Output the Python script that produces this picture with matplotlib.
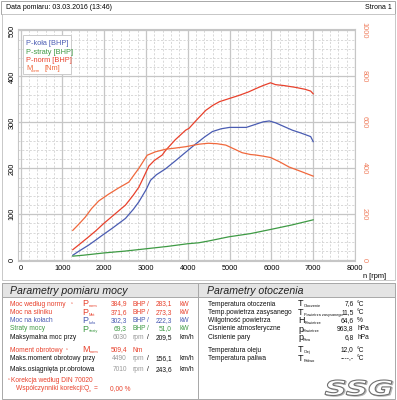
import matplotlib.pyplot as plt
from matplotlib.patches import Rectangle, PathPatch
from matplotlib.textpath import TextPath
from matplotlib.font_manager import FontProperties
from matplotlib.transforms import Affine2D
from matplotlib.ticker import MultipleLocator

plt.rcParams['font.family'] = ['Liberation Sans', 'DejaVu Sans']

# colours of the dyno sheet
RED = '#e8412c'
ORANGE = '#f0683c'
BLUE = '#4a5cb2'
GREEN = '#3e9a44'
GRAY = '#9a9a9a'
AXIS_R = '#f08060'

# ---- curves ----
rpm_kola = [1250, 1400, 1630, 1800, 1950, 2200, 2510, 2700, 2830, 3000, 3110, 3250, 3470,
            3700, 3950, 4190, 4400, 4590, 4800, 5000, 5200, 5400, 5600, 5800, 5950, 6100,
            6300, 6500, 6700, 6940, 7000]
p_kola = [11, 20, 33, 44, 54, 70, 91, 111, 127, 153, 174, 186, 199,
          216, 235, 253, 268, 280, 286, 289, 289, 289, 295, 301, 303, 299,
          291, 283, 277, 269, 258]

rpm_norm = [1250, 1400, 1630, 1800, 1990, 2250, 2510, 2700, 2830, 2910, 3070, 3200, 3390,
            3470, 3700, 3950, 4030, 4200, 4430, 4600, 4760, 5000, 5240, 5450, 5620, 5800,
            5980, 6100, 6300, 6580, 6800, 6940, 7000]
p_norm = [23, 34, 51, 64, 80, 100, 120, 142, 159, 174, 205, 217, 229,
          239, 262, 283, 287, 304, 326, 337, 345, 352, 359, 366, 373, 380,
          386, 382, 380, 376, 372, 368, 362]

rpm_straty = [1250, 1500, 2000, 2500, 3000, 3500, 4000, 4260, 4500, 4980, 5500, 5980, 6500, 7000]
p_straty = [9, 11, 16, 20, 25, 30, 36, 38, 42, 51, 58, 67, 77, 88]

rpm_m = [1250, 1400, 1550, 1700, 1870, 2110, 2350, 2590, 2830, 3030, 3230, 3470, 3700,
         3950, 4270, 4490, 4700, 4910, 5100, 5300, 5500, 5620, 5800, 5980, 6200, 6420,
         6700, 7000]
m_norm = [130, 158, 188, 225, 258, 288, 315, 340, 400, 457, 472, 483, 488,
          494, 505, 509, 507, 501, 485, 468, 460, 458, 453, 447, 428, 406,
          387, 366]

x_ticks = [0, 1000, 2000, 3000, 4000, 5000, 6000, 7000, 8000]
left_ticks = [0, 100, 200, 300, 400, 500]
right_ticks = [0, 200, 400, 600, 800, 1000]

# ---- table texts ----
moc_rows = [
    ("Moc według normy", "P", "norm", "384,9", "BHP", "283,1", "kW", RED),
    ("Moc na silniku", "P", "Mot", "371,6", "BHP", "273,3", "kW", RED),
    ("Moc na kołach", "P", "koła", "302,3", "BHP", "222,3", "kW", BLUE),
    ("Straty mocy", "P", "straty", "69,3", "BHP", "51,0", "kW", GREEN),
]
moc_speed_rows = [
    ("Maksymalna moc przy", "6030", "209,5"),
    ("Maks.moment obrotowy przy", "4490", "156,1"),
    ("Maks.osiągnięta pr.obrotowa", "7010", "243,6"),
]
env_rows = [
    ("Temperatura otoczenia", "T", "Otoczenie", "7,6", "°C"),
    ("Temp.powietrza zasysanego", "T", "Powietrza zasysanego", "11,5", "°C"),
    ("Wilgotność powietrza", "H", "Powietrze", "64,6", "%"),
    ("Cisnienie atmosferyczne", "p", "Powietrze", "963,8", "hPa"),
    ("Cisnienie pary", "p", "Para", "6,8", "hPa"),
    ("Temperatura oleju", "T", "Olej", "12,0", "°C"),
    ("Temperatura paliwa", "T", "Paliwo", "----,-", "°C"),
]

fig = plt.figure(figsize=(3.97, 4.0), dpi=100)

# ---- chart ----
ax = fig.add_axes([18 / 397, 1 - 261.2 / 400, 337 / 397, 232.2 / 400])
ax.plot(rpm_norm, p_norm, color=RED, lw=0.9, zorder=3)
ax.plot(rpm_kola, p_kola, color=BLUE, lw=0.9, zorder=3)
ax.plot(rpm_straty, p_straty, color=GREEN, lw=0.9, zorder=3)
ax.set_xlim(-60, 8000)
ax.set_ylim(-2, 503)
ax.set_xticks(x_ticks)
ax.set_yticks(left_ticks)
ax.xaxis.set_minor_locator(MultipleLocator(200))
ax.yaxis.set_minor_locator(MultipleLocator(20))
ax.grid(which='major', color='#c6c6c6', lw=0.9)
ax.grid(which='minor', color='#d2d2d2', lw=0.6, ls=(0, (2.5, 2)))
ax.set_axisbelow(True)
ax.tick_params(which='both', length=0, labelsize=5.3)
ax.tick_params(axis='x', pad=2.5)
ax.tick_params(axis='y', pad=1.5)
for lab in ax.get_yticklabels():
    lab.set_rotation(90)
    lab.set_va('center')
for s in ax.spines.values():
    s.set_color('#c6c6c6')

ax2 = ax.twinx()
ax2.plot(rpm_m, m_norm, color=ORANGE, lw=0.9)
ax2.set_ylim(-4, 1006)
ax2.set_yticks(right_ticks)
ax2.tick_params(length=0, labelsize=5.3, colors=AXIS_R, pad=4)
for lab in ax2.get_yticklabels():
    lab.set_rotation(270)
    lab.set_va('center')
for s in ax2.spines.values():
    s.set_visible(False)

# ---- page overlay in pixel coords ----
page = fig.add_axes([0, 0, 1, 1], zorder=5)
page.set_xlim(0, 397)
page.set_ylim(400, 0)
page.axis('off')
page.patch.set_alpha(0)

frame = '#a8a8a8'
page.add_patch(Rectangle((1, 1), 394, 12.5, fill=False, ec=frame, lw=0.7))
page.add_patch(Rectangle((1.5, 13.5), 393, 266, fill=False, ec='#c8c8c8', lw=0.7))
page.text(6, 7.5, "Data pomiaru: 03.03.2016 (13:46)", fontsize=5, va='center')
page.text(392, 7.5, "Strona 1", fontsize=5, va='center', ha='right')
page.text(375, 276, "n [rpm]", fontsize=5.3, va='center', ha='center')

# legend box
page.add_patch(Rectangle((22.7, 35), 48, 39, fc='white', ec='#cccccc', lw=0.7))
page.text(26, 43.5, "P-koła [BHP]", fontsize=5.3, color=BLUE, va='center')
page.text(26, 52, "P-straty [BHP]", fontsize=5.3, color=GREEN, va='center')
page.text(26, 60.5, "P-norm [BHP]", fontsize=5.3, color=RED, va='center')
page.text(26, 69, "M", fontsize=5.3, color=ORANGE, va='center')
page.text(30.8, 70.5, "norm", fontsize=3.0, color=ORANGE, va='center')
page.text(44.5, 69, "[Nm]", fontsize=5.3, color=ORANGE, va='center')

# panels
for x0, w, title in [(1.5, 196.5, "Parametry pomiaru mocy"), (198, 196.5, "Parametry otoczenia")]:
    page.add_patch(Rectangle((x0, 283), w, 115.5, fc='white', ec=frame, lw=0.7))
    page.add_patch(Rectangle((x0, 283), w, 13.5, fc='#e4e4e4', ec=frame, lw=0.7))
    page.text(x0 + 9, 290.5, title, fontsize=7.6, style='italic', va='center', color='#222222')

base_w = {"P": 6.0, "T": 5.5, "H": 6.5, "p": 5.0, "M": 7.5}


def symbol(x, y, base, sub, color):
    page.text(x, y, base, fontsize=6.5, color=color, va='center')
    page.text(x + base_w[base], y + 2.3, sub, fontsize=2.8, color=color, va='center')


fs = 4.8
ys = [304, 312.3, 320.6, 329]
for y, (lab, b, sub, v1, u1, v2, u2, col) in zip(ys, moc_rows):
    page.text(10, y, lab, fontsize=fs, color=col, va='center')
    symbol(82.5, y, b, sub, col)
    page.text(127, y, v1, fontsize=fs, color=col, va='center', ha='right')
    page.text(132.7, y, u1, fontsize=fs, color=col, va='center')
    page.text(147.7, y, "/", fontsize=fs, color=col, va='center', ha='center')
    page.text(172, y, v2, fontsize=fs, color=col, va='center', ha='right')
    page.text(180, y, u2, fontsize=fs, color=col, va='center')
page.text(71, 303, "ⁿ", fontsize=3.5, color=RED, va='center')
page.text(66, 349, "ⁿ", fontsize=3.5, color=RED, va='center')

for y, (lab, n, v) in zip([337.3, 358.8, 369.3], moc_speed_rows):
    page.text(10, y, lab, fontsize=fs, color='#111111', va='center')
    page.text(127, y, n, fontsize=fs, color=GRAY, va='center', ha='right')
    page.text(132.7, y, "rpm", fontsize=fs, color=GRAY, va='center')
    page.text(147.7, y, "/", fontsize=fs, color='#111111', va='center', ha='center')
    page.text(172, y, v, fontsize=fs, color='#111111', va='center', ha='right')
    page.text(180, y, "km/h", fontsize=fs, color='#111111', va='center')

page.text(10, 350, "Moment obrotowy", fontsize=fs, color=RED, va='center')
symbol(82.5, 350, "M", "norm", RED)
page.text(127, 350, "509,4", fontsize=fs, color=RED, va='center', ha='right')
page.text(132.7, 350, "Nm", fontsize=fs, color=RED, va='center')

page.text(7.5, 379, "ⁿ", fontsize=3.5, color=RED, va='center')
page.text(11, 380, "Korekcja według DIN 70020", fontsize=fs, color=RED, va='center')
page.text(16, 389, "Współczynniki korekcji:", fontsize=fs, color=RED, va='center')
page.text(84, 389, "Q", fontsize=fs, color=RED, va='center')
page.text(88.8, 390.6, "v", fontsize=2.8, color=RED, va='center')
page.text(94, 389, "=", fontsize=fs, color=RED, va='center')
page.text(110, 389, "0,00 %", fontsize=fs, color=RED, va='center')

for y, (lab, b, sub, v, u) in zip([304, 312.3, 320.7, 329, 337.3, 350, 358.3], env_rows):
    page.text(208, y, lab, fontsize=fs, color='#111111', va='center')
    symbol(298, y, b, sub, '#111111')
    page.text(353.7, y, v, fontsize=fs, color='#111111', va='center', ha='right')
    page.text(357, y, u, fontsize=fs, color='#111111', va='center')

# SSG logo drawn from a text path stretched into its box
tp = TextPath((0, 0), "SSG", size=1, prop=FontProperties(family='DejaVu Sans', weight='bold', style='italic'))
ext = tp.get_extents()
sx = 67 / ext.width
sy = 15.5 / ext.height
for dx, fc, ec in [(1.2, '#b8b8b8', '#b8b8b8'), (0, 'white', '#707070')]:
    tr = Affine2D().translate(-ext.x0, -ext.y0).scale(sx, -sy).translate(325 + dx, 395.5 + dx * 0.6)
    page.add_patch(PathPatch(tr.transform_path(tp), fc=fc, ec=ec, lw=0.8))

fig.savefig("out.png", dpi=100)
